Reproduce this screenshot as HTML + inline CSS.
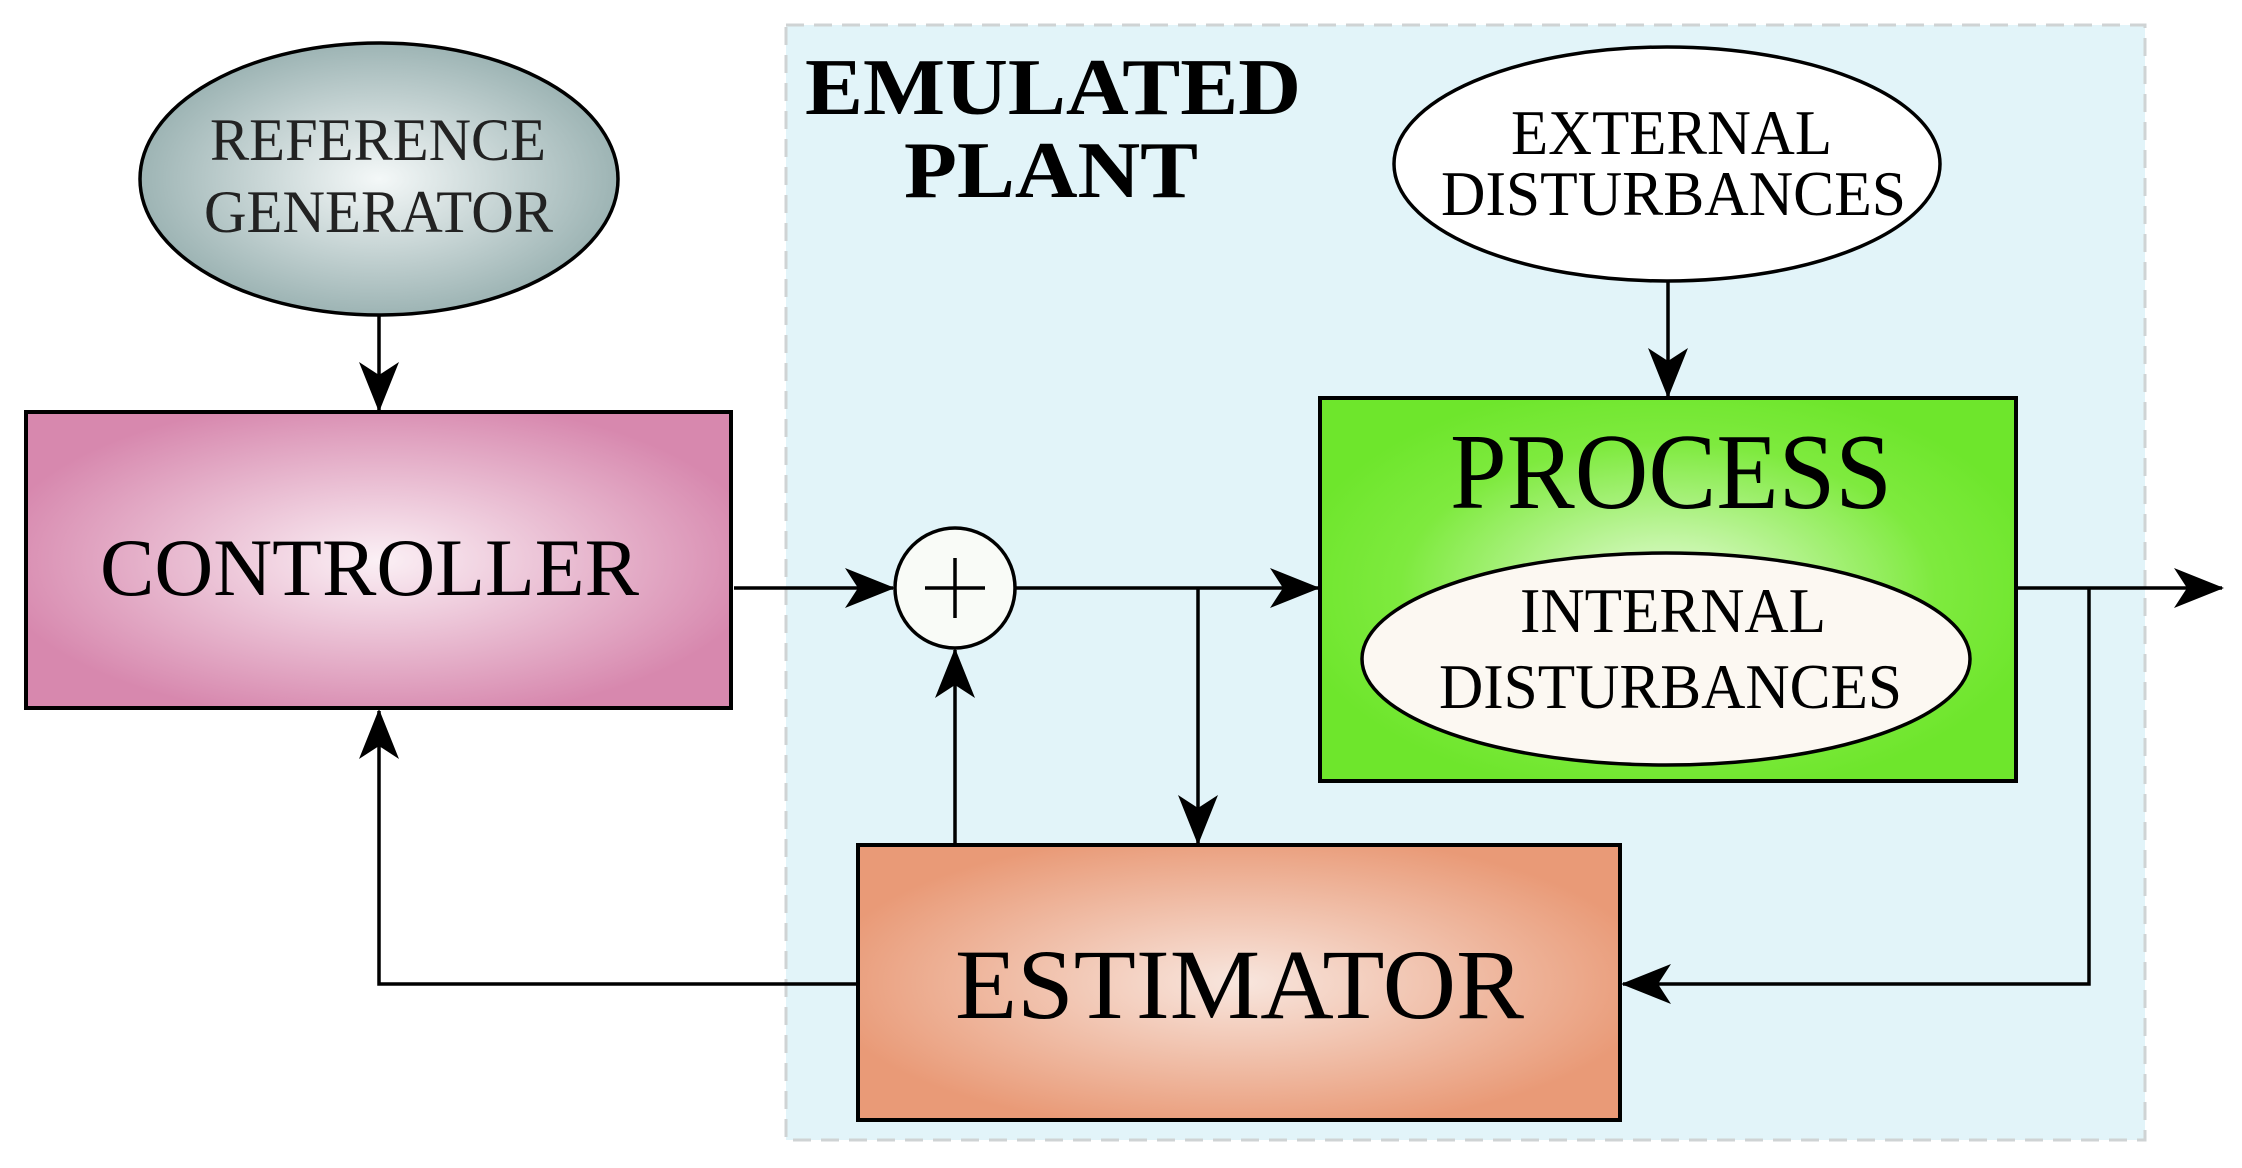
<!DOCTYPE html>
<html><head><meta charset="utf-8"><style>html,body{margin:0;padding:0;background:#fff}svg{display:block}</style></head>
<body>
<svg width="2242" height="1168" viewBox="0 0 2242 1168" xmlns="http://www.w3.org/2000/svg" font-family="'Liberation Serif', serif">
<defs>
<radialGradient id="gRef" cx="50%" cy="50%" r="50%"><stop offset="0" stop-color="#f4f8f8"/><stop offset="1" stop-color="#9db4b4"/></radialGradient>
<radialGradient id="gCtl" cx="50%" cy="50%" r="55%"><stop offset="0" stop-color="#fbf0f5"/><stop offset="1" stop-color="#d788ae"/></radialGradient>
<radialGradient id="gEst" cx="50%" cy="50%" r="55%"><stop offset="0" stop-color="#f8e6de"/><stop offset="1" stop-color="#e99a77"/></radialGradient>
<radialGradient id="gPro" cx="50%" cy="50%" r="55%"><stop offset="0" stop-color="#e6fbd8"/><stop offset="0.7" stop-color="#7eea3e"/><stop offset="1" stop-color="#6ee62c"/></radialGradient>
<marker id="ah" viewBox="0 0 50 40" refX="48" refY="20" markerWidth="50" markerHeight="40" markerUnits="userSpaceOnUse" orient="auto">
<path d="M0,0 L50,20 L0,40 L13,20 Z" fill="#000"/></marker>
</defs>
<rect x="786" y="25" width="1359" height="1115" fill="#e2f4f9" stroke="#cfd3d4" stroke-width="3" stroke-dasharray="18,10"/>
<text x="805" y="114" font-size="80" font-weight="bold" textLength="496" lengthAdjust="spacingAndGlyphs">EMULATED</text>
<text x="904" y="197" font-size="80" font-weight="bold" textLength="294" lengthAdjust="spacingAndGlyphs">PLANT</text>

<ellipse cx="379" cy="179" rx="239" ry="136" fill="url(#gRef)" stroke="#000" stroke-width="3.5"/>
<text x="210" y="160" font-size="60" fill="#222" textLength="336" lengthAdjust="spacingAndGlyphs">REFERENCE</text>
<text x="204" y="232" font-size="60" fill="#222" textLength="349" lengthAdjust="spacingAndGlyphs">GENERATOR</text>

<rect x="26" y="412" width="705" height="296" fill="url(#gCtl)" stroke="#000" stroke-width="4"/>
<text x="100" y="595" font-size="82" textLength="539" lengthAdjust="spacingAndGlyphs">CONTROLLER</text>

<ellipse cx="1667" cy="164" rx="273" ry="117" fill="#fff" stroke="#000" stroke-width="3.5"/>
<text x="1511" y="154" font-size="64" textLength="321" lengthAdjust="spacingAndGlyphs">EXTERNAL</text>
<text x="1441" y="215" font-size="64" textLength="465" lengthAdjust="spacingAndGlyphs">DISTURBANCES</text>

<rect x="1320" y="398" width="696" height="383" fill="url(#gPro)" stroke="#000" stroke-width="4"/>
<text x="1450" y="508" font-size="108" textLength="442" lengthAdjust="spacingAndGlyphs">PROCESS</text>
<ellipse cx="1666" cy="659" rx="304" ry="106" fill="#fcf8f2" stroke="#000" stroke-width="3.5"/>
<text x="1520" y="632" font-size="64" textLength="306" lengthAdjust="spacingAndGlyphs">INTERNAL</text>
<text x="1439" y="708" font-size="64" textLength="463" lengthAdjust="spacingAndGlyphs">DISTURBANCES</text>

<rect x="858" y="845" width="762" height="275" fill="url(#gEst)" stroke="#000" stroke-width="4"/>
<text x="955" y="1018" font-size="100" textLength="569" lengthAdjust="spacingAndGlyphs">ESTIMATOR</text>

<circle cx="955" cy="588" r="60" fill="#f9fbf7" stroke="#000" stroke-width="3.5"/>
<line x1="925" y1="588" x2="985" y2="588" stroke="#000" stroke-width="3.5"/>
<line x1="955" y1="558" x2="955" y2="618" stroke="#000" stroke-width="3.5"/>

<g stroke="#000" stroke-width="3.5" fill="none">
<line x1="379" y1="315" x2="379" y2="410" marker-end="url(#ah)"/>
<line x1="734" y1="588" x2="893" y2="588" marker-end="url(#ah)"/>
<line x1="955" y1="845" x2="955" y2="650" marker-end="url(#ah)"/>
<polyline points="858,984 379,984 379,711" marker-end="url(#ah)"/>
<line x1="1016" y1="588" x2="1318" y2="588" marker-end="url(#ah)"/>
<line x1="1198" y1="588" x2="1198" y2="843" marker-end="url(#ah)"/>
<line x1="1668" y1="281" x2="1668" y2="396" marker-end="url(#ah)"/>
<line x1="2018" y1="588" x2="2222" y2="588" marker-end="url(#ah)"/>
<polyline points="2089,588 2089,984 1623,984" marker-end="url(#ah)"/>
</g>
</svg>
</body></html>
